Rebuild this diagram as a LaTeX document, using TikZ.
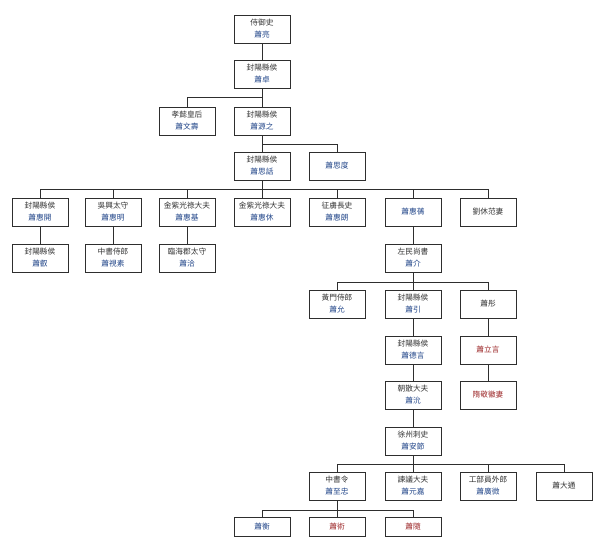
\documentclass[tikz,border=0pt]{standalone}
\usepackage{fontspec}
\newfontfamily\cjk{Noto Sans CJK TC}
\definecolor{nameblue}{HTML}{23478A}
\definecolor{namered}{HTML}{9E2A2B}
\definecolor{txt}{HTML}{333333}
\definecolor{edge}{HTML}{2E2E2E}
\newcommand{\nm}[1]{\textcolor{nameblue}{#1}}
\newcommand{\rd}[1]{\textcolor{namered}{#1}}
\begin{document}
\begin{tikzpicture}[x=1pt,y=-1pt,
  person/.style={draw=edge, line width=1pt, fill=white, minimum width=56pt, minimum height=28pt,
    inner sep=0pt, align=center, text=txt, font=\cjk\fontsize{7.7}{12}\selectfont},
  small/.style={person, minimum height=19pt},
  link/.style={draw=edge, line width=1pt}]
\useasboundingbox (0,0) rectangle (600,541);
\fill[white] (0,0) rectangle (600,541);
% nodes
\node[person] (n1) at (262,29) {侍御史\\\nm{蕭亮}};
\node[person] (n2) at (262,74) {封陽縣侯\\\nm{蕭卓}};
\node[person] (n3a) at (187,121) {孝懿皇后\\\nm{蕭文壽}};
\node[person] (n3b) at (262,121) {封陽縣侯\\\nm{蕭源之}};
\node[person] (n4a) at (262,166) {封陽縣侯\\\nm{蕭思話}};
\node[person] (n4b) at (337,166) {\nm{蕭思度}};
\node[person] (n5a) at (40,212) {封陽縣侯\\\nm{蕭惠開}};
\node[person] (n5b) at (113,212) {吳興太守\\\nm{蕭惠明}};
\node[person] (n5c) at (187,212) {金紫光祿大夫\\\nm{蕭惠基}};
\node[person] (n5d) at (262,212) {金紫光祿大夫\\\nm{蕭惠休}};
\node[person] (n5e) at (337,212) {征虜長史\\\nm{蕭惠朗}};
\node[person] (n5f) at (413,212) {\nm{蕭惠蒨}};
\node[person] (n5g) at (488,212) {劉休范妻};
\node[person] (n6a) at (40,258) {封陽縣侯\\\nm{蕭叡}};
\node[person] (n6b) at (113,258) {中書侍郎\\\nm{蕭視素}};
\node[person] (n6c) at (187,258) {臨海郡太守\\\nm{蕭洽}};
\node[person] (n6f) at (413,258) {左民尚書\\\nm{蕭介}};
\node[person] (n7a) at (337,304) {黃門侍郎\\\nm{蕭允}};
\node[person] (n7b) at (413,304) {封陽縣侯\\\nm{蕭引}};
\node[person] (n7c) at (488,304) {蕭彤};
\node[person] (n8b) at (413,350) {封陽縣侯\\\nm{蕭德言}};
\node[person] (n8c) at (488,350) {\rd{蕭立言}};
\node[person] (n9b) at (413,395) {朝散大夫\\\nm{蕭沇}};
\node[person] (n9c) at (488,395) {\rd{隋敬徽妻}};
\node[person] (n10) at (413,441) {徐州刺史\\\nm{蕭安節}};
\node[person] (n11a) at (337,486) {中書令\\\nm{蕭至忠}};
\node[person] (n11b) at (413,486) {諫議大夫\\\nm{蕭元嘉}};
\node[person] (n11c) at (488,486) {工部員外郎\\\nm{蕭廣微}};
\node[person] (n11d) at (564,486) {蕭大通};
\node[small] (n12a) at (262,527) {\nm{蕭衡}};
\node[small] (n12b) at (337,527) {\rd{蕭術}};
\node[small] (n12c) at (413,527) {\rd{蕭隨}};
% bus coordinates
\coordinate (b2) at (262,97);
\coordinate (b3) at (262,144);
\coordinate (b4) at (262,189);
\coordinate (b6) at (413,282);
\coordinate (b10) at (413,464);
\coordinate (b11) at (337,510);
% connectors
\draw[link] (n1) -- (n2);
\draw[link] (n2) -- (b2);
\foreach \c in {n3a,n3b} \draw[link] (b2) -| (\c.north);
\draw[link] (n3b) -- (b3);
\foreach \c in {n4a,n4b} \draw[link] (b3) -| (\c.north);
\draw[link] (n4a) -- (b4);
\foreach \c in {n5a,n5b,n5c,n5d,n5e,n5f,n5g} \draw[link] (b4) -| (\c.north);
\draw[link] (n5a) -- (n6a);
\draw[link] (n5b) -- (n6b);
\draw[link] (n5c) -- (n6c);
\draw[link] (n5f) -- (n6f);
\draw[link] (n6f) -- (b6);
\foreach \c in {n7a,n7b,n7c} \draw[link] (b6) -| (\c.north);
\draw[link] (n7b) -- (n8b);
\draw[link] (n8b) -- (n9b);
\draw[link] (n9b) -- (n10);
\draw[link] (n7c) -- (n8c);
\draw[link] (n8c) -- (n9c);
\draw[link] (n10) -- (b10);
\foreach \c in {n11a,n11b,n11c,n11d} \draw[link] (b10) -| (\c.north);
\draw[link] (n11a) -- (b11);
\foreach \c in {n12a,n12b,n12c} \draw[link] (b11) -| (\c.north);
\end{tikzpicture}
\end{document}
